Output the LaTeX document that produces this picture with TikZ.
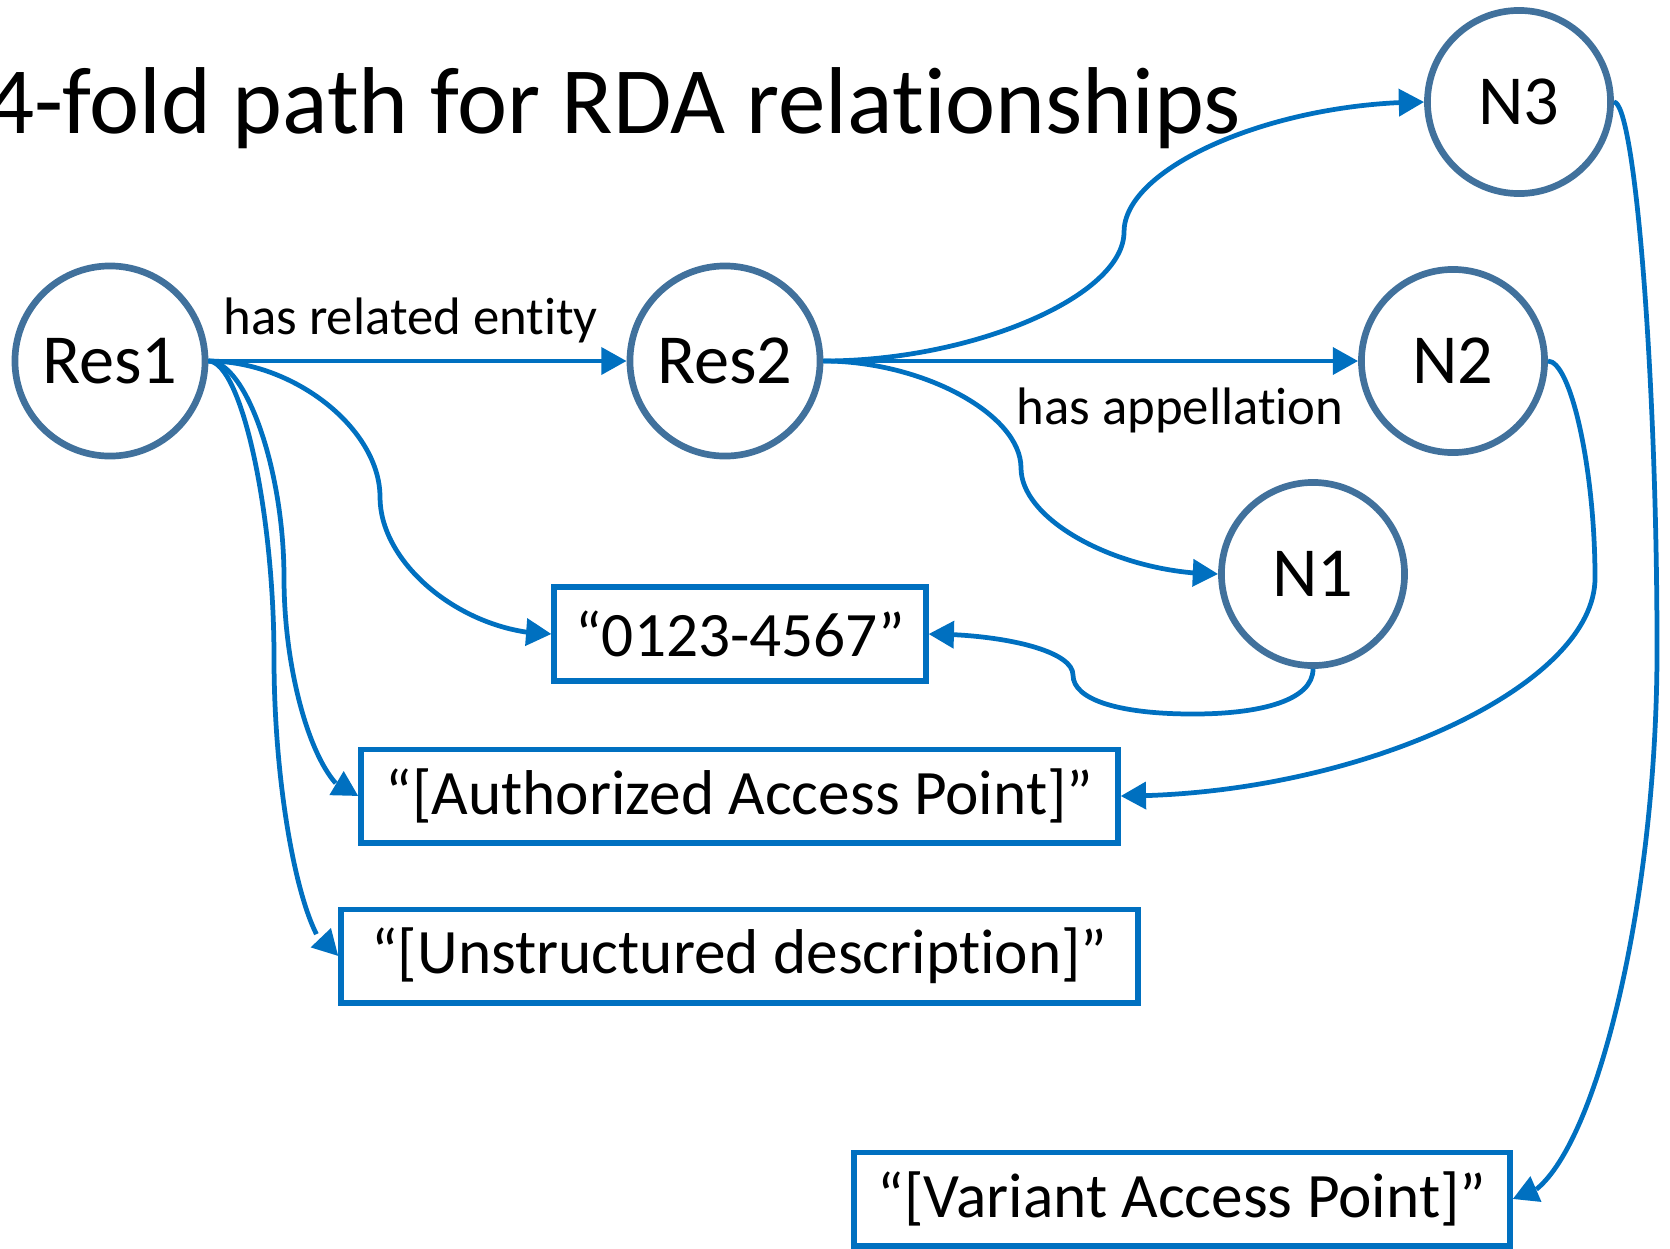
\documentclass[tikz,border=0pt]{standalone}
\usepackage{fontspec}
\setmainfont{Carlito}[Ligatures={NoCommon}]
\usetikzlibrary{arrows.meta,bending}

\definecolor{kreisrand}{HTML}{41719C}
\definecolor{linie}{HTML}{0070C0}

\tikzset{
	kreis/.style={circle, draw=kreisrand, line width=1.9pt, minimum size=1.83cm, inner sep=0pt, font=\fontsize{20}{24}\selectfont},
	kasten/.style={rectangle, draw=linie, line width=1.7pt, minimum height=0.93cm, inner sep=0pt, font=\fontsize{18}{22}\selectfont},
	beschriftung/.style={anchor=base west, inner sep=0pt, font=\fontsize{15}{18}\selectfont}
}

\begin{document}
\begin{tikzpicture}[x=0.01cm, y=-0.01cm]
			\useasboundingbox (0,0) rectangle (1670,1248);
			
			% Titel
			\node[anchor=base east, inner sep=0pt, font=\fontsize{27}{32}\selectfont] (titel) at (1242,133) {4-fold path for RDA relationships};
			
			% Kreise zeichnen
			\node[kreis, minimum size=1.90cm] (res1) at (110,361) {Res1};
			\node[kreis, minimum size=1.90cm] (res2) at (725,361) {Res2};
			\node[kreis] (n1) at (1313,574) {N1};
			\node[kreis] (n2) at (1453,361) {N2};
			\node[kreis] (n3) at (1519,102) {N3};
			
			% Kaesten zeichnen
			\node[kasten, minimum width=3.71cm] (wert) at (740,634) {“0123-4567”};
			\node[kasten, minimum width=7.56cm] (aap) at (739.5,796) {“[Authorized Access Point]”};
			\node[kasten, minimum width=7.96cm] (unstr) at (739.5,956) {“[Unstructured description]”};
			\node[kasten, minimum width=6.55cm] (vap) at (1182,1199) {“[Variant Access Point]”};
			
			% Verbindungen zeichnen
			\begin{scope}[>={Triangle[length=7.2pt, width=7.6pt, flex]}, color=linie, line width=1.35pt]
				\draw[->] (res1) -- (res2);
				\draw[->] (res2) -- (n2);
				\draw[->] (res2.east) .. controls (973,361) and (1124,296) .. (1124,232) .. controls (1124,167) and (1274,102) .. (n3.west);
				\draw[->] (res2.east) .. controls (922,361) and (1021,414) .. (1021,468) .. controls (1021,521) and (1120,574) .. (n1.west);
				\draw[->] (res1.east) .. controls (294,361) and (380,429) .. (380,497) .. controls (380,566) and (466,634) .. (wert.west);
				\draw[->] (res1.east) .. controls (246,361) and (284,470) .. (284,578) .. controls (284,687) and (321,796) .. (aap.west);
				\draw[->] (res1.east) .. controls (241,361) and (274,510) .. (274,658) .. controls (274,807) and (306,956) .. (unstr.west);
				\draw[->] (n1.south) .. controls (1313,700) and (1262,714) .. (1193,714) .. controls (1120,714) and (1073,700) .. (1073,675) .. controls (1073,650) and (1000,634) .. (wert.east);
				\draw[->] (n2.east) .. controls (1571,361) and (1595,470) .. (1595,578) .. controls (1595,687) and (1357,796) .. (aap.east);
				\draw[->] (n3.east) .. controls (1635,102) and (1657,376) .. (1657,650) .. controls (1657,925) and (1584,1199) .. (vap.east);
			\end{scope}
			
			% Beschriftungen eintragen
			\node[beschriftung] (rel) at (223,334) {has related entity};
			\node[beschriftung] (app) at (1016,424) {has appellation};
\end{tikzpicture}
\end{document}
